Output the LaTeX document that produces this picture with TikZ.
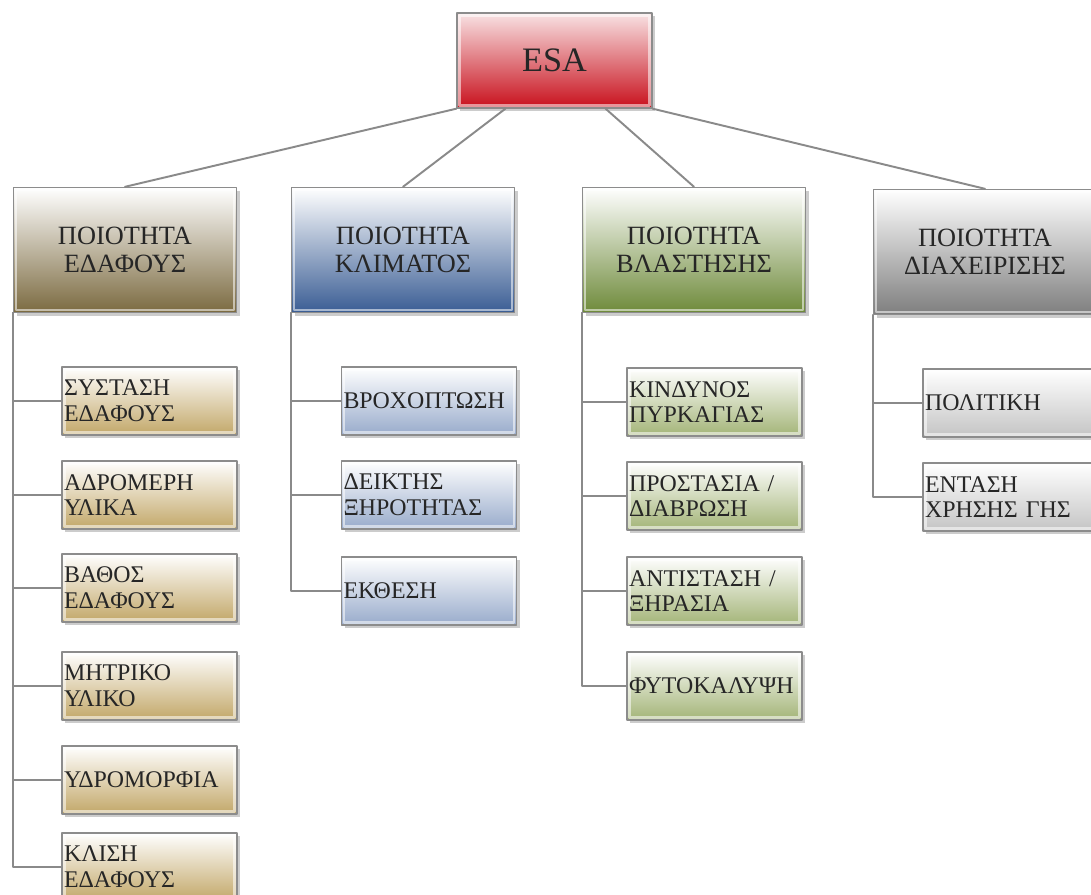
\documentclass[tikz,border=0pt]{standalone}
\usepackage{fontspec}
\setmainfont{Liberation Serif}
\usetikzlibrary{calc,shadows}
\definecolor{txt}{HTML}{262626}
\definecolor{boxline}{HTML}{8C8C8C}
\definecolor{wire}{HTML}{8A8A8A}
\definecolor{esaD}{HTML}{C8101C}
\definecolor{soilD}{HTML}{7B6A40}
\definecolor{climD}{HTML}{3A5D94}
\definecolor{vegD}{HTML}{6E8A3A}
\definecolor{mgmtD}{HTML}{7E7E7E}
\definecolor{soilL}{HTML}{C2A768}
\definecolor{climL}{HTML}{98ABCB}
\definecolor{vegL}{HTML}{A3B477}
\definecolor{mgmtL}{HTML}{C4C4C4}

\begin{document}
\begin{tikzpicture}[x=0.02cm,y=-0.02cm,line cap=round,line join=round,
  box/.style={draw=boxline,line width=0.8pt,text=txt,inner sep=0pt,
    drop shadow={opacity=0.4,shadow xshift=1.8pt,shadow yshift=-1.8pt},
    path picture={\draw[white,opacity=0.55,line width=1.4pt]
      ([shift={(1.4pt,1.4pt)}]path picture bounding box.south west) rectangle
      ([shift={(-1.4pt,-1.4pt)}]path picture bounding box.north east);}},
  esabox/.style={box,minimum width=3.9cm,minimum height=1.9cm,
    top color=esaD!12!white,bottom color=esaD,font=\fontsize{19.5}{22}\selectfont},
  catbox/.style={box,minimum width=4.46cm,minimum height=2.5cm,align=center,
    top color=white,bottom color=#1,font=\fontsize{15}{16.2}\selectfont},
  subbox/.style={box,minimum width=3.5cm,minimum height=1.36cm,text width=3.42cm,
    align=left,top color=white,bottom color=#1,font=\fontsize{13.6}{14.6}\selectfont},
  wireline/.style={draw=wire,line width=1.1pt}]
\clip (0,0) rectangle (1091,895);
\fill[white] (0,0) rectangle (1091,895);

% main node and the four qualities
\node[esabox] (esa) at (554.5,60.5) {ESA};
\node[catbox=soilD] (soil) at (125,250) {ΠΟΙΟΤΗΤΑ\\ΕΔΑΦΟΥΣ};
\node[catbox=climD] (clim) at (403,250) {ΠΟΙΟΤΗΤΑ\\ΚΛΙΜΑΤΟΣ};
\node[catbox=vegD] (veg) at (694,250) {ΠΟΙΟΤΗΤΑ\\ΒΛΑΣΤΗΣΗΣ};
\node[catbox=mgmtD] (mgmt) at (985,252) {ΠΟΙΟΤΗΤΑ\\ΔΙΑΧΕΙΡΙΣΗΣ};

\draw[wireline] ($(esa.south west)!0.0!(esa.south east)$) -- (soil.north);
\draw[wireline] ($(esa.south west)!0.25!(esa.south east)$) -- (clim.north);
\draw[wireline] ($(esa.south west)!0.76!(esa.south east)$) -- (veg.north);
\draw[wireline] ($(esa.south west)!1.0!(esa.south east)$) -- (mgmt.north);

% soil
\node[subbox=soilL] (s1) at (149.5,401) {ΣΥΣΤΑΣΗ\\ΕΔΑΦΟΥΣ};
\node[subbox=soilL] (s2) at (149.5,495) {ΑΔΡΟΜΕΡΗ\\ΥΛΙΚΑ};
\node[subbox=soilL] (s3) at (149.5,588) {ΒΑΘΟΣ\\ΕΔΑΦΟΥΣ};
\node[subbox=soilL] (s4) at (149.5,686) {ΜΗΤΡΙΚΟ\\ΥΛΙΚΟ};
\node[subbox=soilL] (s5) at (149.5,780) {ΥΔΡΟΜΟΡΦΙΑ};
\node[subbox=soilL] (s6) at (149.5,867) {ΚΛΙΣΗ\\ΕΔΑΦΟΥΣ};

% climate
\node[subbox=climL] (c1) at (429,401) {ΒΡΟΧΟΠΤΩΣΗ};
\node[subbox=climL] (c2) at (429,495) {ΔΕΙΚΤΗΣ\\ΞΗΡΟΤΗΤΑΣ};
\node[subbox=climL] (c3) at (429,591) {ΕΚΘΕΣΗ};

% vegetation
\node[subbox=vegL] (v1) at (714.5,402) {ΚΙΝΔΥΝΟΣ\\ΠΥΡΚΑΓΙΑΣ};
\node[subbox=vegL] (v2) at (714.5,496) {ΠΡΟΣΤΑΣΙΑ /\\ΔΙΑΒΡΩΣΗ};
\node[subbox=vegL] (v3) at (714.5,591) {ΑΝΤΙΣΤΑΣΗ /\\ΞΗΡΑΣΙΑ};
\node[subbox=vegL] (v4) at (714.5,686) {ΦΥΤΟΚΑΛΥΨΗ};

% management
\node[subbox=mgmtL] (m1) at (1010.5,403) {ΠΟΛΙΤΙΚΗ};
\node[subbox=mgmtL] (m2) at (1010.5,497) {ΕΝΤΑΣΗ\\ΧΡΗΣΗΣ ΓΗΣ};

\foreach \k in {1,...,6} \draw[wireline] (soil.south west) |- (s\k.west);
\foreach \k in {1,...,3} \draw[wireline] (clim.south west) |- (c\k.west);
\foreach \k in {1,...,4} \draw[wireline] (veg.south west) |- (v\k.west);
\foreach \k in {1,2} \draw[wireline] (mgmt.south west) |- (m\k.west);
\end{tikzpicture}
\end{document}
